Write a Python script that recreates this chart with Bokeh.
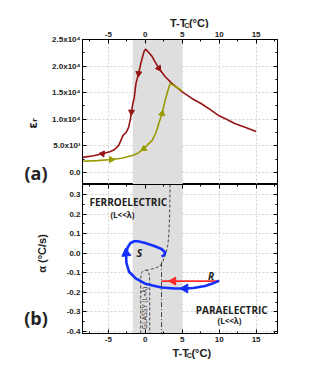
import math
from bokeh.plotting import figure
from bokeh.models import Range1d, LinearAxis, FixedTicker, BoxAnnotation, Label
from bokeh.layouts import column, row
from bokeh.embed import file_html
from bokeh.resources import INLINE

# ---------------- data ----------------
x_ticks = [-5, 0, 5, 10, 15]
x_minor = [-7.5, -2.5, 2.5, 7.5, 12.5, 17.5]
x_tick_labels = ["-5", "0", "5", "10", "15"]

eps_ticks = [0, 5000, 10000, 15000, 20000, 25000]
eps_minor = [-2500, 2500, 7500, 12500, 17500, 22500]
eps_tick_labels = ["0.0", "5.0x10³", "1.0x10⁴", "1.5x10⁴", "2.0x10⁴", "2.5x10⁴"]

alpha_ticks = [-0.4, -0.3, -0.2, -0.1, 0.0, 0.1, 0.2, 0.3]
alpha_minor = [-0.35, -0.25, -0.15, -0.05, 0.05, 0.15, 0.25, 0.35]
alpha_tick_labels = ["-0.4", "-0.3", "-0.2", "-0.1", "0.0", "0.1", "0.2", "0.3"]

band_T = [-1.7, 5.0]

# (a) cooling curve (dark red)
cool_T = [-8.5, -7.0, -5.8, -4.8, -4.2, -3.6, -3.3, -3.0, -2.55, -2.24, -2.0, -1.87,
          -1.7, -1.5, -1.26, -0.9, -0.6, -0.17, 0.04, 0.5, 0.93, 1.83, 2.7, 3.6, 5.0,
          6.3, 7.6, 8.8, 9.9, 11.0, 12.1, 13.5, 15.0]
cool_eps = [2800, 3100, 3480, 3850, 4240, 5060, 6000, 6950, 7580, 8520, 10110, 11360,
            12800, 14000, 16740, 18600, 20530, 22730, 23180, 22500, 21780, 19580, 17990,
            16740, 15150, 13900, 12900, 11800, 10700, 10000, 9200, 8500, 7700]
cool_arrow_T = [-5.8, -1.87, -0.9, 1.83]
cool_arrow_eps = [3480, 11360, 18600, 19580]
cool_arrow_dir = [math.pi / 2 - 0.1, math.pi - 0.05, math.pi - 0.1, math.pi + 0.6]

# (a) heating curve (olive)
heat_T = [-8.5, -6.5, -4.6, -3.2, -1.75, -1.0, -0.2, 0.4, 0.93, 1.4, 1.83, 2.27,
          2.7, 3.05, 3.37, 4.2, 5.0]
heat_eps = [2080, 2200, 2400, 2650, 3160, 3600, 4430, 5300, 6000, 7300, 9170, 11060,
            13580, 15300, 16740, 16050, 15300]
heat_arrow_T = [-4.6, -0.2, 2.27]
heat_arrow_eps = [2400, 4430, 11060]
heat_arrow_dir = [-math.pi / 2 - 0.05, -math.pi / 2 - 0.5, -0.2]

# (b) trajectory R -> S (blue)
path_T = [10.0, 9.0, 8.1, 6.5, 5.4, 4.0, 2.2, 1.0, 0.0, -1.3, -2.2, -2.55, -2.6,
          -2.4, -2.0, -1.5, -1.0, 0.0, 1.3, 2.2, 2.7, 2.6, 2.4, 2.2]
path_rate = [-0.14, -0.156, -0.167, -0.177, -0.18, -0.18, -0.175, -0.165, -0.155,
             -0.128, -0.094, -0.05, -0.01, 0.03, 0.053, 0.062, 0.062, 0.053, 0.036,
             0.022, 0.004, -0.006, -0.013, -0.016]
path_arrow_T = [5.4, -2.6]
path_arrow_rate = [-0.18, 0.0]
path_arrow_dir = [math.pi / 2, 0.1]

# (b) quench line (red)
ramp_T = [10.0, 2.2]
ramp_rate = [-0.142, -0.142]
ramp_arrow_T = [3.8]
ramp_arrow_rate = [-0.142]

# (b) phase boundaries
ferro_T = [3.35, 3.3, 3.2, 3.05, 2.8, 2.4, 2.0, 1.4, 0.9, 0.4, 0.1]
ferro_rate = [0.352, 0.2, 0.1, 0.04, 0.0, -0.04, -0.065, -0.075, -0.08, -0.085, -0.087]
glassy_T = [-0.62, -0.62, -0.6, -0.5, -0.3, 0.0, 0.3, 0.5, 0.58, 0.6, 0.6]
glassy_rate = [-0.41, -0.15, -0.12, -0.1, -0.09, -0.085, -0.09, -0.1, -0.12, -0.15, -0.41]
split_T = [2.2, 2.2]
split_rate = [-0.045, -0.41]

# ---------------- styling helpers ----------------
TICK_FONT = "Liberation Sans"
RED = "#961414"
OLIVE = "#999900"
BLUE = "#1430ff"
LEFT_W = 49          # width of the left text strip
MAIN_W = 232         # width of the plotting column
TOP_H = 28           # height of the top title strip
P1_H = 156
P2_H = 160
BOT_H = 30
TOTAL_H = TOP_H + P1_H + P2_H + BOT_H


def style_axis(ax, ticks, minor, labels=None, show_labels=True, standoff=3):
    ax.ticker = FixedTicker(ticks=ticks, minor_ticks=minor)
    if labels is not None:
        ax.major_label_overrides = {t: l for t, l in zip(ticks, labels)}
    ax.major_tick_in = 4
    ax.major_tick_out = 0
    ax.minor_tick_in = 2
    ax.minor_tick_out = 0
    ax.axis_line_color = "black"
    ax.major_tick_line_color = "black"
    ax.minor_tick_line_color = "black"
    ax.major_label_text_font = TICK_FONT
    ax.major_label_text_font_style = "bold"
    if show_labels:
        ax.major_label_text_color = "#222222"
        ax.major_label_text_font_size = "8px"
        ax.major_label_standoff = standoff
    else:
        ax.major_label_text_color = None
        ax.major_label_text_font_size = "1px"
        ax.major_label_standoff = 0


def style_grid(p):
    for g in (p.xgrid[0], p.ygrid[0]):
        g.grid_line_color = "#c8c8c8"
        g.grid_line_dash = "2 2"
        g.grid_line_width = 0.8


def add_label(p, x, y, text, size, font="Open Sans", style="bold", angle=0.0,
              align="center", color="#222222"):
    p.add_layout(Label(x=x, y=y, text=text, text_font=font, text_font_size=size,
                       text_font_style=style, angle=angle, text_align=align,
                       text_baseline="middle", text_color=color))


def add_ttc(p, xc, yc):
    # "T-T" + subscript "C" + "(°C)"; strip coordinates are page pixels (y down)
    add_label(p, xc - 21, yc, "T-T", "11px", font=TICK_FONT, align="left")
    add_label(p, xc - 3.9, yc + 3, "C", "7px", font=TICK_FONT, align="left")
    add_label(p, xc + 1.6, yc, "(°C)", "11px", font=TICK_FONT, align="left")


def text_strip(width, height, x0, y0):
    s = figure(width=width, height=height, x_range=Range1d(x0, x0 + width),
               y_range=Range1d(y0 + height, y0), x_axis_location=None,
               y_axis_location=None, toolbar_location=None, output_backend="svg",
               min_border_left=0, min_border_right=0, min_border_top=0,
               min_border_bottom=0)
    s.outline_line_color = None
    s.grid.visible = False
    return s


XR = (-8.5, 17.9)

# ---------------- panel (a) ----------------
p1 = figure(width=MAIN_W, height=P1_H, x_range=Range1d(*XR), y_range=Range1d(-2300, 25000),
            x_axis_location="above", toolbar_location=None, output_backend="svg",
            min_border_left=30, min_border_right=4, min_border_top=0,
            min_border_bottom=0)
p1.outline_line_color = "black"
p1.outline_line_width = 1
style_axis(p1.xaxis[0], x_ticks, x_minor, x_tick_labels)
style_axis(p1.yaxis[0], eps_ticks, eps_minor, eps_tick_labels, standoff=2)
r1 = LinearAxis()
p1.add_layout(r1, "right")
style_axis(r1, eps_ticks, eps_minor, show_labels=False)
style_grid(p1)
p1.add_layout(BoxAnnotation(left=band_T[0], right=band_T[1], fill_color="#dedede",
                            fill_alpha=1.0, line_alpha=0, level="underlay"))
p1.line(cool_T, cool_eps, line_color=RED, line_width=1.6)
p1.line(heat_T, heat_eps, line_color=OLIVE, line_width=1.6)
p1.scatter(cool_arrow_T, cool_arrow_eps, marker="triangle", size=6, angle=cool_arrow_dir,
           fill_color=RED, line_color=RED)
p1.scatter(heat_arrow_T, heat_arrow_eps, marker="triangle", size=6, angle=heat_arrow_dir,
           fill_color=OLIVE, line_color=OLIVE)

# ---------------- panel (b) ----------------
p2 = figure(width=MAIN_W, height=P2_H, x_range=Range1d(*XR), y_range=Range1d(-0.41, 0.352),
            x_axis_location="below", toolbar_location=None, output_backend="svg",
            min_border_left=30, min_border_right=4, min_border_top=0,
            min_border_bottom=0)
p2.outline_line_color = "black"
p2.outline_line_width = 1
style_axis(p2.xaxis[0], x_ticks, x_minor, x_tick_labels)
style_axis(p2.yaxis[0], alpha_ticks, alpha_minor, alpha_tick_labels, standoff=2)
r2 = LinearAxis()
p2.add_layout(r2, "right")
style_axis(r2, alpha_ticks, alpha_minor, show_labels=False)
t2 = LinearAxis()
p2.add_layout(t2, "above")
style_axis(t2, x_ticks, x_minor, show_labels=False)
style_grid(p2)
p2.add_layout(BoxAnnotation(left=band_T[0], right=band_T[1], fill_color="#dedede",
                            fill_alpha=1.0, line_alpha=0, level="underlay"))
p2.line(ferro_T, ferro_rate, line_color="#333333", line_width=0.9, line_dash="3 2")
p2.line(glassy_T, glassy_rate, line_color="#333333", line_width=0.9, line_dash="3 2")
p2.line(split_T, split_rate, line_color="#333333", line_width=0.9, line_dash="5 2 1 2")
p2.line(ramp_T, ramp_rate, line_color="#ff2a2a", line_width=1.8)
p2.scatter(ramp_arrow_T, ramp_arrow_rate, marker="triangle", size=8,
           angle=math.pi / 2, fill_color="#ff2a2a", line_color="#ff2a2a")
p2.line(path_T, path_rate, line_color=BLUE, line_width=2.6)
p2.scatter(path_arrow_T, path_arrow_rate, marker="triangle", size=9, angle=path_arrow_dir,
           fill_color=BLUE, line_color=BLUE)

add_label(p2, -2.3, 0.263, "FERROELECTRIC", "10px")
add_label(p2, -3.1, 0.201, "(L<<λ)", "8px")
add_label(p2, 11.7, -0.288, "PARAELECTRIC", "10px")
add_label(p2, 11.4, -0.342, "(L<<λ)", "8px")
add_label(p2, -0.8, 0.002, "S", "11px", style="bold italic")
add_label(p2, 8.9, -0.118, "R", "10px", style="bold italic")
add_label(p2, -0.06, -0.28, "GLASSY (L=λ)", "7px", style="normal", angle=math.pi / 2)

# ---------------- text strips (page-pixel coordinates) ----------------
left = text_strip(LEFT_W, TOTAL_H, 0, 0)
add_label(left, 35.5, 172, "(a)", "18px")
add_label(left, 35.5, 317, "(b)", "18px")
add_label(left, 32, 123, "εᵣ", "12px", font="DejaVu Sans", angle=math.pi / 2)
add_label(left, 41, 253, "α (°C/s)", "11px", font=TICK_FONT, angle=math.pi / 2)

top = text_strip(MAIN_W, TOP_H, LEFT_W, 0)
add_ttc(top, 174, 22)

bottom = text_strip(MAIN_W, BOT_H, LEFT_W, TOP_H + P1_H + P2_H)
add_ttc(bottom, 177, 352)

layout = row(left, column(top, p1, p2, bottom, spacing=0), spacing=0)
open("out.html", "w").write(file_html(layout, INLINE))
